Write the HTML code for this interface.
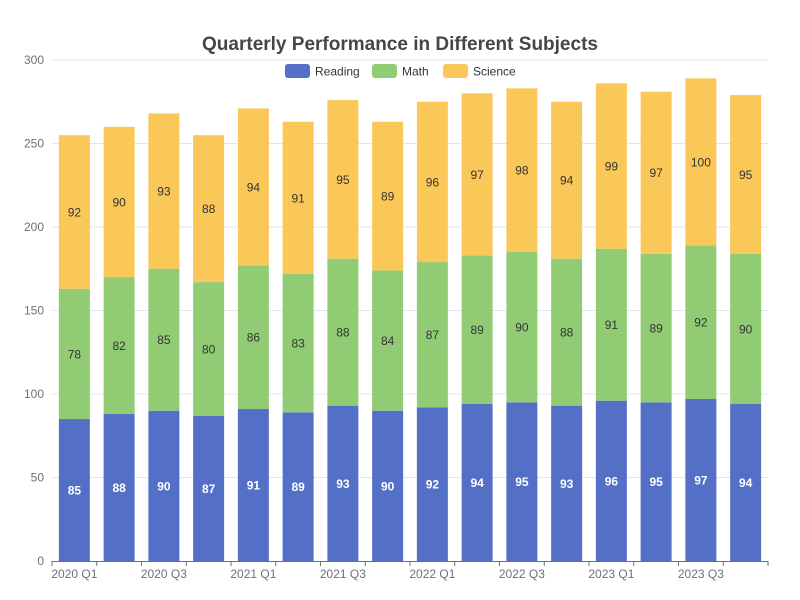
<!DOCTYPE html>
<html><head><meta charset="utf-8"><style>
body{margin:0;background:#fff;}
svg{display:block;font-family:"Liberation Sans",sans-serif;}
</style></head><body>
<svg id="chart" width="800" height="600">
<text x="400" y="50" text-anchor="middle" font-size="19" font-weight="bold" fill="#464646">Quarterly Performance in Different Subjects</text>
<g id="legend">
<g><rect x="285" y="64" width="25" height="14" rx="3" fill="#5470c6"/><text x="315" y="75.5" font-size="12" fill="#333">Reading</text></g>
<g><rect x="372" y="64" width="25" height="14" rx="3" fill="#91cc75"/><text x="402" y="75.5" font-size="12" fill="#333">Math</text></g>
<g><rect x="443" y="64" width="25" height="14" rx="3" fill="#fac858"/><text x="473" y="75.5" font-size="12" fill="#333">Science</text></g>
</g>
<g id="grid"></g><g id="bars"></g><g id="axes"></g>
</svg>
<script>
const categories=["2020 Q1","2020 Q2","2020 Q3","2020 Q4","2021 Q1","2021 Q2","2021 Q3","2021 Q4","2022 Q1","2022 Q2","2022 Q3","2022 Q4","2023 Q1","2023 Q2","2023 Q3","2023 Q4"];
const reading=[85,88,90,87,91,89,93,90,92,94,95,93,96,95,97,94];
const math=[78,82,85,80,86,83,88,84,87,89,90,88,91,89,92,90];
const science=[92,90,93,88,94,91,95,89,96,97,98,94,99,97,100,95];
const yTicks=[0,50,100,150,200,250,300];
const NS="http://www.w3.org/2000/svg";
const L=52,R=768,T=60,B=561,YMAX=300;
const bw=(R-L)/categories.length, barW=31;
const y=v=>B-(v/YMAX)*(B-T);
const xc=i=>L+bw*(i+0.5);
function mk(tag,attrs,parent,text){const e=document.createElementNS(NS,tag);for(const k in attrs)e.setAttribute(k,attrs[k]);if(text!==undefined)e.textContent=text;parent.appendChild(e);return e;}
const grid=document.getElementById('grid'),bars=document.getElementById('bars'),axes=document.getElementById('axes');
yTicks.forEach(t=>{
 if(t>0){const g=mk('line',{x1:L,x2:R,y1:y(t),y2:y(t),stroke:'#e0e6f1'},grid);
 
 }
 const l=mk('text',{x:44,y:y(t)+4,'text-anchor':'end','font-size':12,fill:'#6e7079'},axes,String(t));
 
 
});
const series=[[reading,'#5470c6','reading','#fff','bold'],[math,'#91cc75','math','#333','normal'],[science,'#fac858','science','#333','normal']];
categories.forEach((c,i)=>{
 let base=0;
 series.forEach(([vals,col,nm,tc,fw])=>{
  const v=vals[i];
  const r=mk('rect',{x:xc(i)-barW/2,y:y(base+v),width:barW,height:y(base)-y(base+v),fill:col},bars);
  
  
  const t=mk('text',{x:xc(i),y:(y(base)+y(base+v))/2+4.5,'text-anchor':'middle','font-size':12,fill:tc,'font-weight':fw},bars,String(v));
  
  
  base+=v;
 });
});
const ax=mk('line',{x1:L,x2:R,y1:B+0.5,y2:B+0.5,stroke:'#6e7079'},axes);


for(let i=0;i<=categories.length;i++){
 const tk=mk('line',{x1:L+bw*i,x2:L+bw*i,y1:B,y2:B+5,stroke:'#6e7079'},axes);
 
 
}
categories.forEach((c,i)=>{
 if(i%2===0){const t=mk('text',{x:xc(i),y:B+17,'text-anchor':'middle','font-size':12,fill:'#6e7079'},axes,c);
 
 }
});
</script>
</body></html>
